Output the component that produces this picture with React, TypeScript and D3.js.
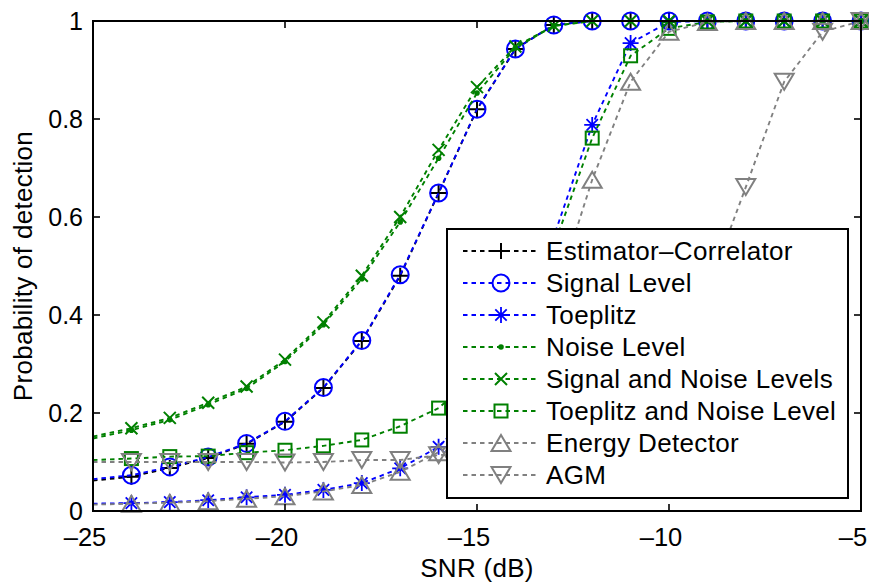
import React from "react";
import * as d3 from "d3";

const SNR = [-25, -24, -23, -22, -21, -20, -19, -18, -17, -16, -15, -14, -13, -12, -11, -10, -9, -8, -7, -6, -5];

const estimatorCorrelator = [0.062, 0.07, 0.088, 0.108, 0.137, 0.182, 0.251, 0.347, 0.48, 0.649, 0.82, 0.943, 0.992, 1, 1, 1, 1, 1, 1, 1, 1];
const signalLevel = [0.065, 0.073, 0.09, 0.11, 0.138, 0.183, 0.252, 0.348, 0.482, 0.649, 0.82, 0.943, 0.992, 1, 1, 1, 1, 1, 1, 1, 1];
const toeplitz = [0.015, 0.016, 0.018, 0.022, 0.028, 0.033, 0.043, 0.057, 0.087, 0.131, 0.21, 0.34, 0.56, 0.788, 0.955, 0.998, 1, 1, 1, 1, 1];
const noiseLevel = [0.148, 0.165, 0.186, 0.217, 0.25, 0.305, 0.38, 0.474, 0.59, 0.72, 0.853, 0.945, 0.99, 1, 1, 1, 1, 1, 1, 1, 1];
const signalNoiseLevels = [0.152, 0.169, 0.19, 0.221, 0.254, 0.309, 0.385, 0.48, 0.6, 0.737, 0.865, 0.948, 0.99, 1, 1, 1, 1, 1, 1, 1, 1];
const toeplitzNoiseLevel = [0.104, 0.107, 0.111, 0.112, 0.119, 0.124, 0.133, 0.145, 0.173, 0.21, 0.28, 0.38, 0.54, 0.761, 0.929, 0.985, 0.998, 1, 1, 1, 1];
const energyDetector = [0.013, 0.015, 0.017, 0.02, 0.025, 0.03, 0.04, 0.053, 0.08, 0.12, 0.17, 0.27, 0.43, 0.676, 0.876, 0.978, 0.998, 1, 1, 1, 1];
const agm = [0.1, 0.1, 0.1, 0.1, 0.1, 0.099, 0.1, 0.104, 0.104, 0.114, 0.12, 0.13, 0.15, 0.18, 0.23, 0.32, 0.45, 0.661, 0.876, 0.978, 1];

const seriesNames = [
  "Estimator–Correlator",
  "Signal Level",
  "Toeplitz",
  "Noise Level",
  "Signal and Noise Levels",
  "Toeplitz and Noise Level",
  "Energy Detector",
  "AGM",
];
const seriesValues = [estimatorCorrelator, signalLevel, toeplitz, noiseLevel, signalNoiseLevels, toeplitzNoiseLevel, energyDetector, agm];
const seriesColors = ["#000000", "#0000ff", "#0000ff", "#008000", "#008000", "#008000", "#808080", "#808080"];
const seriesMarkers = ["plus", "circle", "star", "dot", "x", "square", "up", "down"];

const xTicks = [-25, -20, -15, -10, -5];
const yTicks = [0, 0.2, 0.4, 0.6, 0.8, 1];

const FONT = "'Liberation Sans', Arial, Helvetica, sans-serif";

function Marker({ type, cx, cy, color }: { type: string; cx: number; cy: number; color: string }) {
  const t = `translate(${cx},${cy})`;
  const common = { fill: "none", stroke: color, strokeWidth: 2 };
  switch (type) {
    case "plus":
      return <path transform={t} d="M-8,0H8M0,-8V8" {...common} />;
    case "circle":
      return <circle cx={cx} cy={cy} r={8.5} {...common} />;
    case "star":
      return <path transform={t} d="M-8,0H8M0,-8V8M-5.7,-5.7L5.7,5.7M-5.7,5.7L5.7,-5.7" {...common} strokeWidth={1.8} />;
    case "dot":
      return <circle cx={cx} cy={cy} r={2.8} fill={color} stroke="none" />;
    case "x":
      return <path transform={t} d="M-6,-6L6,6M-6,6L6,-6" {...common} />;
    case "square":
      return <rect x={cx - 6.5} y={cy - 6.5} width={13} height={13} {...common} />;
    case "up":
      return <path transform={t} d="M0,-8L9.5,8L-9.5,8Z" {...common} />;
    case "down":
      return <path transform={t} d="M0,8L9.5,-8L-9.5,-8Z" {...common} />;
    default:
      return null;
  }
}

export default function App() {
  const W = 869;
  const H = 584;
  const x = d3.scaleLinear().domain([-25, -5]).range([93, 861]);
  const y = d3.scaleLinear().domain([0, 1]).range([511, 21]);
  const [x0, x1] = x.range();
  const [y0, y1] = y.range();

  const line = d3
    .line<number>()
    .x((_, i) => x(SNR[i]))
    .y((d) => y(d));

  const dash = "4.5 4";
  const legX = 447, legY = 229, legW = 401, legH = 269;
  const rowH = 32;
  const row0 = 251;

  return (
    <div style={{ position: "absolute", left: 0, top: 0 }}>
      <svg width={W} height={H} style={{ display: "block", background: "#fff" }} fontFamily={FONT}>
        <rect x={0} y={0} width={W} height={H} fill="#fff" />
        <defs>
          <clipPath id="plotclip">
            <rect x={x0} y={y1} width={x1 - x0} height={y0 - y1} />
          </clipPath>
        </defs>

        {seriesValues.map((vals, si) => (
          <g key={si}>
            <path
              d={line(vals) || ""}
              fill="none"
              stroke={seriesColors[si]}
              strokeWidth={1.9}
              strokeDasharray={dash}
              clipPath="url(#plotclip)"
            />
            {vals.map((v, i) =>
              i === 0 ? null : (
                <Marker key={i} type={seriesMarkers[si]} cx={x(SNR[i])} cy={y(v)} color={seriesColors[si]} />
              )
            )}
          </g>
        ))}

        <rect x={x0} y={y1} width={x1 - x0} height={y0 - y1} fill="none" stroke="#000" strokeWidth={2} />
        {xTicks.map((t) => (
          <g key={"xt" + t}>
            <line x1={x(t)} x2={x(t)} y1={y0} y2={y0 - 7} stroke="#000" strokeWidth={1.6} />
            <line x1={x(t)} x2={x(t)} y1={y1} y2={y1 + 7} stroke="#000" strokeWidth={1.6} />
            <text x={x(t) - 8} y={546} fontSize={25.5} textAnchor="middle" fill="#000">
              {t < 0 ? "–" + Math.abs(t) : String(t)}
            </text>
          </g>
        ))}
        {yTicks.map((t) => (
          <g key={"yt" + t}>
            <line x1={x0} x2={x0 + 7} y1={y(t)} y2={y(t)} stroke="#000" strokeWidth={1.6} />
            <line x1={x1} x2={x1 - 7} y1={y(t)} y2={y(t)} stroke="#000" strokeWidth={1.6} />
            <text x={83} y={y(t) + 8.5} fontSize={25} textAnchor="end" fill="#000">
              {String(t)}
            </text>
          </g>
        ))}

        <text x={(x0 + x1) / 2} y={577} fontSize={26} textAnchor="middle" fill="#000" letterSpacing={0.3}>
          SNR (dB)
        </text>
        <text
          transform={`translate(32,${(y0 + y1) / 2}) rotate(-90)`}
          fontSize={26}
          textAnchor="middle"
          fill="#000"
          letterSpacing={0.3}
        >
          Probability of detection
        </text>

        <rect x={legX} y={legY} width={legW} height={legH} fill="#fff" stroke="#000" strokeWidth={2} />
        {seriesNames.map((name, si) => {
          const cy = row0 + si * rowH;
          return (
            <g key={"lg" + si}>
              <line x1={463} x2={539} y1={cy} y2={cy} stroke={seriesColors[si]} strokeWidth={1.9} strokeDasharray={dash} />
              <Marker type={seriesMarkers[si]} cx={501} cy={cy} color={seriesColors[si]} />
              <text x={546} y={cy + 9} fontSize={26} fill="#000" letterSpacing={0.35}>
                {name}
              </text>
            </g>
          );
        })}
      </svg>
    </div>
  );
}
